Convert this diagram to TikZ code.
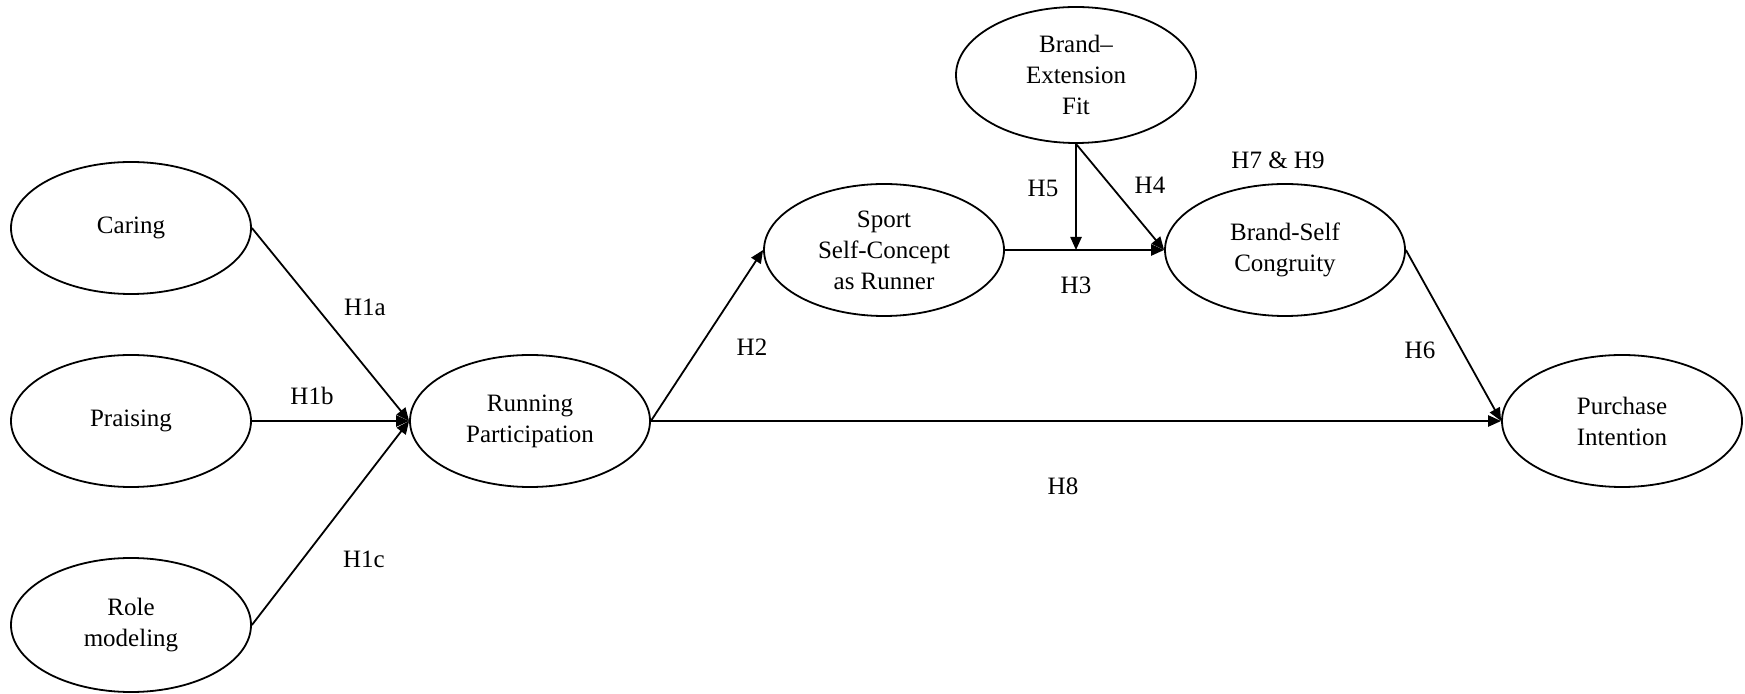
\documentclass[tikz,border=0pt]{standalone}
\usepackage{fontspec}
\setmainfont{Liberation Serif}
\usetikzlibrary{shapes.geometric,arrows.meta}
\begin{document}
\begin{tikzpicture}[x=0.5pt,y=-0.5pt,
  every node/.style={font=\fontsize{12.5}{15.5}\selectfont},
  var/.style={ellipse,draw,line width=0.9pt,minimum width=120pt,minimum height=66pt,inner sep=0pt,align=center},
  lab/.style={inner sep=0pt},
  conn/.style={line width=0.9pt,-{Triangle[length=6.5pt,width=5.6pt]}}]
\useasboundingbox (0,0) rectangle (1745,694);
\node[var] (car) at (131,228) {Caring};
\node[var] (pra) at (131,421) {Praising};
\node[var,minimum height=67pt] (rol) at (131,625) {Role\\modeling};
\node[var] (run) at (530,421) {Running\\Participation};
\node[var] (spo) at (884,250) {Sport\\Self-Concept\\as Runner};
\node[var,minimum height=68pt] (bef) at (1076,75) {Brand–\\Extension\\Fit};
\node[var] (bsc) at (1285,250) {Brand-Self\\Congruity};
\node[var] (pur) at (1622,421) {Purchase\\Intention};

\draw[conn] (car.east) -- (run.west);
\draw[conn] (pra.east) -- (run.west);
\draw[conn] (rol.east) -- (run.west);
\draw[conn] (run.east) -- (spo.west);
\draw[conn] (run.east) -- (pur.west);
\draw[conn] (spo.east) -- (bsc.west);
\coordinate (mod) at (bef.south |- spo.east);
\draw[conn] (bef.south) -- (mod);
\draw[conn] (bef.south) -- (bsc.west);
\draw[conn] (bsc.east) -- (pur.west);

\node[lab] (h1a) at (365,307) {H1a};
\node[lab] (h1b) at (312,396) {H1b};
\node[lab] (h1c) at (364,559) {H1c};
\node[lab] (h2) at (752,347) {H2};
\node[lab] (h3) at (1076,285) {H3};
\node[lab] (h4) at (1150,185) {H4};
\node[lab] (h5) at (1043,188) {H5};
\node[lab] (h79) at (1278,160) {H7 \& H9};
\node[lab] (h6) at (1420,350) {H6};
\node[lab] (h8) at (1063,486) {H8};
\end{tikzpicture}
\end{document}
